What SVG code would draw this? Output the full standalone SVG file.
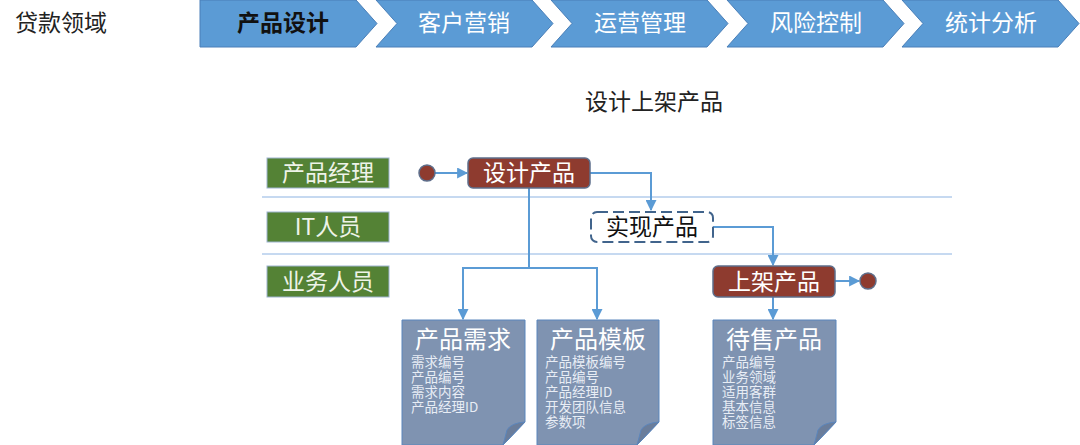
<svg xmlns="http://www.w3.org/2000/svg" width="1080" height="445" viewBox="0 0 1080 445">
<defs>
<style>
text{font-family:"Noto Sans CJK SC","Noto Sans",sans-serif;}
.chev{fill:#5b9bd5;stroke:#4a7fb8;stroke-width:1;}
.ct{font-size:23px;fill:#ffffff;text-anchor:middle;}
.lane{fill:#548235;stroke:#9db3cf;stroke-width:1;}
.lt{font-size:23px;fill:#eef3e8;text-anchor:middle;}
.act{fill:#8e3b2f;stroke:#5e6f8c;stroke-width:1.5;}
.at{font-size:23px;fill:#ffffff;text-anchor:middle;}
.sep{stroke:#8db3e2;stroke-width:1;fill:none;}
.conn{stroke:#5b9bd5;stroke-width:2;fill:none;}
.doc{fill:#7f93b1;stroke:#5b86bd;stroke-width:1;}
.fold{fill:#6a7d9b;stroke:#5b86bd;stroke-width:1;}
.dt{font-size:24px;fill:#ffffff;text-anchor:middle;}
.di{font-size:13.5px;fill:#e8edf5;}
.dot{fill:#8e3b2f;stroke:#5e6f8c;stroke-width:1.5;}
</style>
<marker id="arr" viewBox="0 0 10 10" refX="9" refY="5" markerWidth="5.5" markerHeight="5.5" orient="auto" markerUnits="strokeWidth">
<path d="M0,0 L10,5 L0,10 Z" fill="#5b9bd5"/>
</marker>
</defs>
<rect width="1080" height="445" fill="#ffffff"/>

<g id="domain-title">
<text x="15" y="31" font-size="23" fill="#222222">贷款领域</text>
</g>

<g id="chevron-1">
<polygon class="chev" points="200,0 356,0 377,23.5 356,47 200,47"/>
<text class="ct" x="283" y="31" style="fill:#111111;font-weight:bold">产品设计</text>
</g>
<g id="chevron-2">
<polygon class="chev" points="376,0 532,0 553,23.5 532,47 376,47 397,23.5"/>
<text class="ct" x="464" y="31">客户营销</text>
</g>
<g id="chevron-3">
<polygon class="chev" points="551,0 707,0 728,23.5 707,47 551,47 572,23.5"/>
<text class="ct" x="640" y="31">运营管理</text>
</g>
<g id="chevron-4">
<polygon class="chev" points="727,0 883,0 904,23.5 883,47 727,47 748,23.5"/>
<text class="ct" x="816" y="31">风险控制</text>
</g>
<g id="chevron-5">
<polygon class="chev" points="902,0 1058,0 1079,23.5 1058,47 902,47 923,23.5"/>
<text class="ct" x="991" y="31">统计分析</text>
</g>

<g id="diagram-title">
<text x="654" y="110" font-size="23" fill="#222222" text-anchor="middle">设计上架产品</text>
</g>

<g id="lane-separators">
<line class="sep" x1="262" y1="197" x2="952" y2="197"/>
<line class="sep" x1="262" y1="254" x2="952" y2="254"/>
</g>

<g id="lane-pm">
<rect class="lane" x="267" y="158" width="122" height="30"/>
<text class="lt" x="328" y="181">产品经理</text>
</g>
<g id="lane-it">
<rect class="lane" x="267" y="212" width="122" height="30"/>
<text class="lt" x="328" y="235">IT人员</text>
</g>
<g id="lane-biz">
<rect class="lane" x="267" y="266" width="122" height="31"/>
<text class="lt" x="328" y="290">业务人员</text>
</g>

<g id="connectors">
<line class="conn" x1="435" y1="173" x2="467" y2="173" marker-end="url(#arr)"/>
<polyline class="conn" points="590,173 651,173 651,210" marker-end="url(#arr)"/>
<polyline class="conn" points="713,227 773,227 773,265" marker-end="url(#arr)"/>
<line class="conn" x1="835" y1="281" x2="859" y2="281" marker-end="url(#arr)"/>
<line class="conn" x1="773" y1="297" x2="773" y2="319" marker-end="url(#arr)"/>
<line class="conn" x1="529" y1="188" x2="529" y2="268"/>
<polyline class="conn" points="463,319 463,268 597,268 597,319" marker-end="url(#arr)"/>
<line class="conn" x1="463" y1="272" x2="463" y2="319" marker-end="url(#arr)"/>
</g>

<g id="start">
<circle class="dot" cx="427" cy="173" r="8"/>
</g>
<g id="design-product">
<rect class="act" x="468" y="158" width="122" height="30" rx="5"/>
<text class="at" x="529" y="181">设计产品</text>
</g>
<g id="implement-product">
<rect x="591" y="212" width="122" height="30" rx="6" fill="#ffffff" stroke="#41648c" stroke-width="2" stroke-dasharray="11,5"/>
<text x="652" y="235" font-size="23" fill="#111111" text-anchor="middle">实现产品</text>
</g>
<g id="launch-product">
<rect class="act" x="713" y="266" width="122" height="31" rx="5"/>
<text class="at" x="774" y="290">上架产品</text>
</g>
<g id="end">
<circle class="dot" cx="868" cy="281" r="8"/>
</g>

<g id="doc-requirement">
<path class="doc" d="M402,320 H525 V422 L503,445 H402 Z"/>
<path class="fold" d="M525,422 Q511,423 507,430 Q505,438 503,445 Z"/>
<text class="dt" x="463" y="348">产品需求</text>
<text class="di" x="411" y="367"><tspan x="411" y="367">需求编号</tspan><tspan x="411" y="382">产品编号</tspan><tspan x="411" y="397">需求内容</tspan><tspan x="411" y="412">产品经理ID</tspan></text>
</g>
<g id="doc-template">
<path class="doc" d="M537,320 H659 V422 L637,445 H537 Z"/>
<path class="fold" d="M659,422 Q645,423 641,430 Q639,438 637,445 Z"/>
<text class="dt" x="598" y="348">产品模板</text>
<text class="di" x="545" y="367"><tspan x="545" y="367">产品模板编号</tspan><tspan x="545" y="382">产品编号</tspan><tspan x="545" y="397">产品经理ID</tspan><tspan x="545" y="412">开发团队信息</tspan><tspan x="545" y="427">参数项</tspan></text>
</g>
<g id="doc-for-sale">
<path class="doc" d="M713,320 H836 V422 L814,445 H713 Z"/>
<path class="fold" d="M836,422 Q822,423 818,430 Q816,438 814,445 Z"/>
<text class="dt" x="774" y="348">待售产品</text>
<text class="di" x="722" y="367"><tspan x="722" y="367">产品编号</tspan><tspan x="722" y="382">业务领域</tspan><tspan x="722" y="397">适用客群</tspan><tspan x="722" y="412">基本信息</tspan><tspan x="722" y="427">标签信息</tspan></text>
</g>
</svg>
